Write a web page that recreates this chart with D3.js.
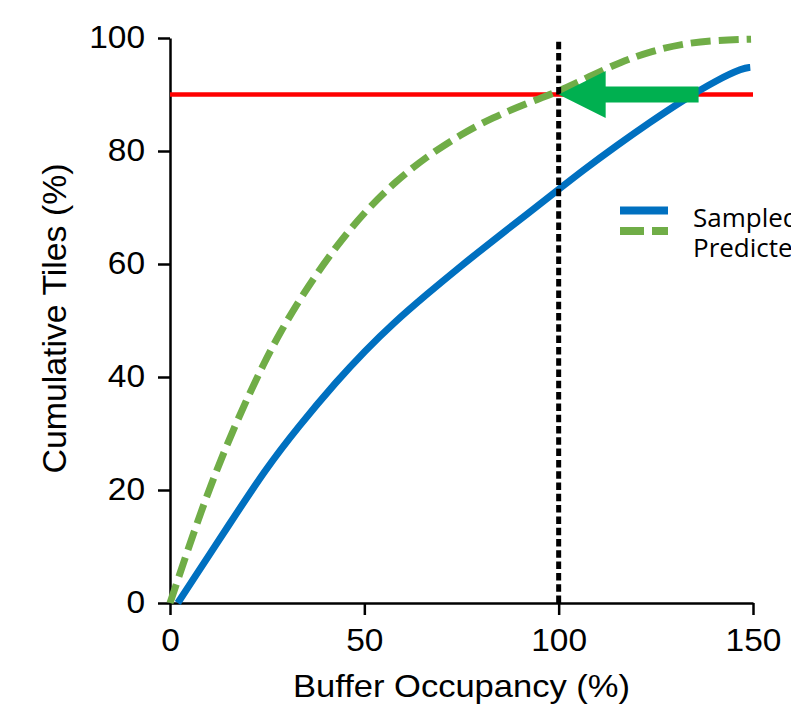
<!DOCTYPE html>
<html>
<head>
<meta charset="utf-8">
<script src="https://cdn.jsdelivr.net/npm/d3@7"></script>
<style>
  body { margin: 0; background: #fff; }
  svg { display: block; }
  .tick text { font-family: "Liberation Sans", Arial, sans-serif; }
</style>
</head>
<body>
<div id="graph"></div>
<script>
// sampled curve (blue)
var sampledX = [2, 16, 24.4, 33, 43.2, 50, 57.4, 66, 74.6, 83, 92, 100, 106.3, 115, 123.5, 132, 140.8, 147.5, 149.3];
var sampledY = [0, 14.7, 23.5, 31.2, 39.5, 44.5, 49.5, 54.6, 59.5, 64.1, 68.9, 73.2, 76.6, 81.0, 85.1, 89.0, 92.6, 94.7, 94.8];

// predicted curve (green dashed)
var predictedX = [0, 4, 8, 12, 16, 20, 24, 28, 34, 42, 50, 58, 66, 75, 83, 92, 100, 108, 116, 124, 132, 140, 149.5];
var predictedY = [0, 8.2, 16.2, 23.5, 30.2, 36.4, 42.2, 47.5, 54.5, 62.5, 69.2, 74.6, 79.0, 83.0, 85.9, 88.5, 90.5, 93.2, 95.8, 97.7, 99.0, 99.6, 99.8];

var xTicks = [0, 50, 100, 150];
var yTicks = [0, 20, 40, 60, 80, 100];
var seriesNames = ["Sampled", "Predicted"];

var threshold = 90;        // red line
var capacity = 100;        // dotted line
var capacityTop = 99.4;
var arrowFrom = 136, arrowTo = 100;

var width = 791, height = 709;
var margin = {top: 38, right: 38, bottom: 106, left: 170};

var x = d3.scaleLinear().domain([0, 150]).range([margin.left, width - margin.right]);
var y = d3.scaleLinear().domain([0, 100]).range([height - margin.bottom, margin.top]);

var svg = d3.select("#graph").append("svg")
    .attr("width", width)
    .attr("height", height);

// axes
var xAxis = svg.append("g")
    .attr("transform", "translate(0," + y(0) + ")")
    .call(d3.axisBottom(x).tickValues(xTicks).tickSize(12).tickPadding(14).tickSizeOuter(0));
var yAxis = svg.append("g")
    .attr("transform", "translate(" + x(0) + ",0)")
    .call(d3.axisLeft(y).tickValues(yTicks).tickSize(12).tickPadding(13).tickSizeOuter(0));

[xAxis, yAxis].forEach(function(g) {
  g.selectAll("path, line").attr("stroke", "#000").attr("stroke-width", 2.5);
  g.selectAll("text").attr("fill", "#000").style("font-size", "31px");
});
// tick labels are a little wider in the original
xAxis.selectAll(".tick text").attr("transform", "scale(1.08,1)");
yAxis.selectAll(".tick text").attr("x", 0).attr("transform", "translate(-25,0) scale(1.08,1)");

// red threshold line
svg.append("line")
    .attr("x1", x(0)).attr("x2", x(150))
    .attr("y1", y(threshold)).attr("y2", y(threshold))
    .attr("stroke", "#ff0000").attr("stroke-width", 4.5);

var line = d3.line()
    .x(function(d) { return x(d[0]); })
    .y(function(d) { return y(d[1]); })
    .curve(d3.curveBasis);

svg.append("path")
    .datum(d3.zip(predictedX, predictedY))
    .attr("d", line)
    .attr("fill", "none")
    .attr("stroke", "#70ad47")
    .attr("stroke-width", 7)
    .attr("stroke-dasharray", "20,8");

svg.append("path")
    .datum(d3.zip(sampledX, sampledY))
    .attr("d", line)
    .attr("fill", "none")
    .attr("stroke", "#0070c0")
    .attr("stroke-width", 7);

// dotted line at 100%
svg.append("line")
    .attr("x1", x(capacity)).attr("x2", x(capacity))
    .attr("y1", y(0)).attr("y2", y(capacityTop))
    .attr("stroke", "#000").attr("stroke-width", 5)
    .attr("stroke-dasharray", "7.5,3.8");

// green arrow
var headLen = 47, headHalf = 23.5, shaftHalf = 8;
var ay = y(threshold), tip = x(arrowTo), tail = x(arrowFrom);
svg.append("path")
    .attr("d", "M" + tip + "," + ay +
      "L" + (tip + headLen) + "," + (ay - headHalf) +
      "L" + (tip + headLen) + "," + (ay - shaftHalf) +
      "L" + tail + "," + (ay - shaftHalf) +
      "L" + tail + "," + (ay + shaftHalf) +
      "L" + (tip + headLen) + "," + (ay + shaftHalf) +
      "L" + (tip + headLen) + "," + (ay + headHalf) + "Z")
    .attr("fill", "#00b050");

// axis titles
svg.append("text")
    .attr("x", (x(0) + x(150)) / 2)
    .attr("y", 697)
    .attr("text-anchor", "middle")
    .attr("textLength", 337)
    .attr("lengthAdjust", "spacingAndGlyphs")
    .style("font-family", "Liberation Sans, Arial, sans-serif")
    .style("font-size", "32px")
    .text("Buffer Occupancy (%)");

svg.append("text")
    .attr("transform", "translate(66," + ((y(0) + y(100)) / 2 - 2) + ") rotate(-90)")
    .attr("text-anchor", "middle")
    .attr("textLength", 310)
    .attr("lengthAdjust", "spacingAndGlyphs")
    .style("font-family", "Liberation Sans, Arial, sans-serif")
    .style("font-size", "33px")
    .text("Cumulative Tiles (%)");

// legend
var legend = svg.append("g").attr("transform", "translate(620,0)");
legend.append("line")
    .attr("x1", 0).attr("x2", 48).attr("y1", 210.5).attr("y2", 210.5)
    .attr("stroke", "#0070c0").attr("stroke-width", 8);
legend.append("line")
    .attr("x1", 0).attr("x2", 48).attr("y1", 231).attr("y2", 231)
    .attr("stroke", "#70ad47").attr("stroke-width", 8)
    .attr("stroke-dasharray", "24,8");
legend.selectAll("text.lg")
    .data(seriesNames)
    .enter().append("text")
    .attr("class", "lg")
    .attr("x", 73)
    .attr("y", function(d, i) { return 227 + i * 30; })
    .style("font-family", "Open Sans, sans-serif")
    .style("font-size", "26px")
    .text(function(d) { return d; });
</script>
</body>
</html>
